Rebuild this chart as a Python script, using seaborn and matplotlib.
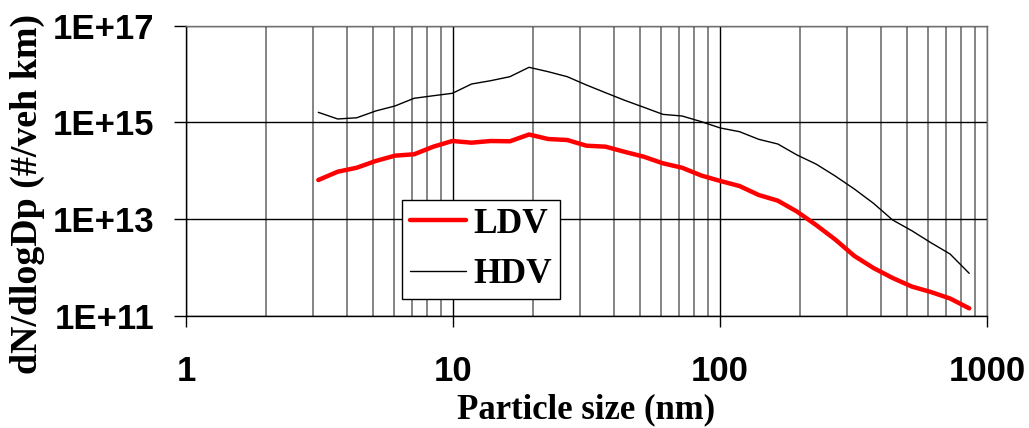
import matplotlib
matplotlib.use("Agg")
import matplotlib.pyplot as plt
import matplotlib.ticker as mticker
import seaborn as sns
import pandas as pd
import numpy as np

# ---- data ----
particle_size_nm = [3.13, 3.70, 4.36, 5.14, 6.06, 7.15, 8.44, 9.95, 11.74, 13.84,
                    16.33, 19.26, 22.72, 26.79, 31.60, 37.27, 43.95, 51.84, 61.14, 72.12,
                    85.06, 100.3, 118.3, 139.6, 164.6, 194.2, 229.0, 270.1, 318.6, 375.8,
                    443.2, 522.8, 616.6, 727.3, 857.8]

ldv = [6.47e13, 9.60e13, 1.16e14, 1.60e14, 2.06e14, 2.20e14, 3.16e14, 4.14e14, 3.82e14, 4.14e14,
       4.08e14, 5.64e14, 4.55e14, 4.34e14, 3.31e14, 3.16e14, 2.47e14, 1.96e14, 1.43e14, 1.16e14,
       8.02e13, 6.17e13, 4.86e13, 3.17e13, 2.42e13, 1.44e13, 7.60e12, 3.81e12, 1.74e12, 9.80e11,
       6.10e11, 4.06e11, 3.13e11, 2.30e11, 1.44e11]

hdv = [1.62e15, 1.18e15, 1.25e15, 1.73e15, 2.19e15, 3.16e15, 3.57e15, 4.01e15, 6.24e15, 7.30e15,
       8.83e15, 1.38e16, 1.12e16, 8.83e15, 5.95e15, 4.12e15, 2.87e15, 2.06e15, 1.47e15, 1.36e15,
       1.04e15, 7.69e14, 6.45e14, 4.49e14, 3.59e14, 2.13e14, 1.38e14, 7.82e13, 4.21e13, 2.13e13,
       9.63e12, 5.79e12, 3.27e12, 1.91e12, 7.62e11]

series_names = ["LDV", "HDV"]
xtick_values = [1, 10, 100, 1000]
xtick_labels = ["1", "10", "100", "1000"]
ytick_values = [1e11, 1e13, 1e15, 1e17]
ytick_labels = ["1E+11", "1E+13", "1E+15", "1E+17"]
x_label = "Particle size (nm)"
y_label = "dN/dlogDp (#/veh km)"

df = pd.concat([
    pd.DataFrame({"size": particle_size_nm, "value": ldv, "vehicle": series_names[0]}),
    pd.DataFrame({"size": particle_size_nm, "value": hdv, "vehicle": series_names[1]}),
])

sns.set_theme(style="white")
plt.rcParams["font.family"] = ["Liberation Sans", "DejaVu Sans"]
plt.rcParams["text.color"] = "black"

fig = plt.figure(figsize=(10.29, 4.28), dpi=100)
ax = fig.add_axes([186 / 1029, 1 - 316 / 428, (987 - 186) / 1029, (316 - 25.7) / 428])

sns.lineplot(data=df[df.vehicle == series_names[0]], x="size", y="value", ax=ax,
             color="#ff0000", linewidth=3.2, label=series_names[0], sort=False, zorder=4)
sns.lineplot(data=df[df.vehicle == series_names[1]], x="size", y="value", ax=ax,
             color="black", linewidth=1.0, label=series_names[1], sort=False, zorder=3)

ax.set_xscale("log")
ax.set_yscale("log")
ax.set_xlim(1, 1000)
ax.set_ylim(1e11, 1e17)

ax.xaxis.set_major_locator(mticker.FixedLocator(xtick_values))
ax.xaxis.set_major_formatter(mticker.FixedFormatter(xtick_labels))
ax.xaxis.set_minor_locator(mticker.LogLocator(base=10, subs=np.arange(2, 10)))
ax.xaxis.set_minor_formatter(mticker.NullFormatter())
ax.yaxis.set_major_locator(mticker.FixedLocator(ytick_values))
ax.yaxis.set_major_formatter(mticker.FixedFormatter(ytick_labels))
ax.yaxis.set_minor_locator(mticker.NullLocator())

ax.grid(which="major", axis="both", color="black", linewidth=1.0)
ax.grid(which="minor", axis="x", color="#707070", linewidth=1.2)
ax.set_axisbelow(True)

for s in ax.spines.values():
    s.set_color("black")
    s.set_linewidth(1.0)
ax.spines["top"].set_color("#707070")
ax.spines["right"].set_color("#707070")

ax.tick_params(axis="x", which="major", direction="out", length=8, width=1,
               color="black", bottom=True, pad=20)
ax.tick_params(axis="x", which="minor", length=0)
ax.tick_params(axis="y", which="major", direction="out", length=9, width=1,
               color="black", left=True, pad=14)
for lab in ax.get_xticklabels() + ax.get_yticklabels():
    lab.set_fontfamily(["Liberation Sans", "DejaVu Sans"])
    lab.set_fontweight("bold")
    lab.set_fontsize(25)
    lab.set_color("black")

ax.set_xlabel(x_label, fontfamily=["Liberation Serif", "DejaVu Serif"], fontweight="bold",
              fontsize=25, color="black", labelpad=4)
ax.set_ylabel(y_label, fontfamily=["Liberation Serif", "DejaVu Serif"], fontweight="bold",
              fontsize=27.3, color="black")
ax.yaxis.set_label_coords(-0.176, 0.42)

leg = ax.legend(loc="lower left", bbox_to_anchor=(0.270, 0.058), frameon=True,
                fancybox=False, edgecolor="black", framealpha=1,
                prop={"family": "Liberation Serif", "weight": "bold", "size": 25.5},
                handlelength=1.58, handletextpad=0.2, labelspacing=0.5,
                borderpad=0.22, borderaxespad=0, labelcolor="black")
leg.get_frame().set_linewidth(1.0)
leg.set_zorder(5)

fig.savefig("out.png", dpi=100, facecolor="white")
